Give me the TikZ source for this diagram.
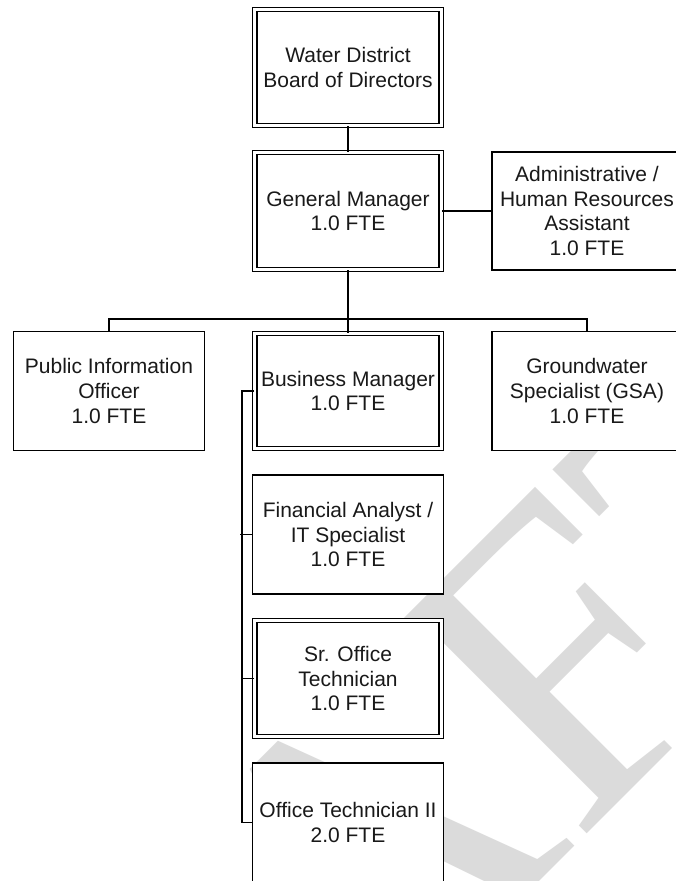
\documentclass[tikz,border=0pt]{standalone}
\usepackage{fontspec}
\setmainfont{Liberation Sans}
\newfontfamily\wmfont{Liberation Serif}
\begin{document}
\begin{tikzpicture}[x=1pt,y=-1pt,
  every node/.style={font=\fontsize{21}{24.8}\selectfont, align=center, inner sep=0pt, text=black!90},
  sbox/.style={draw, line width=1.6pt, fill=white, minimum width=191pt, minimum height=119pt},
  dbox/.style={draw, double, double distance=3.0pt, line width=1.3pt, fill=white, minimum width=186.5pt, minimum height=116pt},
  link/.style={line width=1.5pt},
  wm/.style={rotate=45, anchor=base west, inner sep=0pt, text=black!14, font=\wmfont\fontsize{430}{430}\selectfont}]
\useasboundingbox (0,0) rectangle (676,881);
\clip (0,0) rectangle (676,881);
\fill[white] (0,0) rectangle (676,881);
% watermark
\node[wm] (draft) at (-65,1486) {DRAFT};
% boxes
\node[dbox] (board) at (348,67.5) {Water District\\Board of Directors};
\node[dbox, minimum height=117pt] (gm) at (348,211) {General Manager\\1.0 FTE};
\node[sbox, minimum width=190pt, minimum height=118pt] (admin) at (587,211) {Administrative /\\Human Resources\\Assistant\\1.0 FTE};
\node[sbox] (pio) at (109,391) {Public Information\\Officer\\1.0 FTE};
\node[dbox, minimum height=115pt] (bm) at (348,391) {Business Manager\\1.0 FTE};
\node[sbox, minimum width=190pt] (gw) at (587,391) {Groundwater\\Specialist (GSA)\\1.0 FTE};
\node[sbox] (fa) at (348,534.5) {Financial Analyst /\\IT Specialist\\1.0 FTE};
\node[dbox] (sr) at (348,678.5) {Sr. Office\\Technician\\1.0 FTE};
\node[sbox] (ot) at (348,822.5) {Office Technician II\\2.0 FTE};
% connectors
\coordinate (bus) at (348,319);
\draw[link] (board.south) -- (gm.north);
\draw[link] (gm.east) -- (admin.west);
\draw[link, line width=2pt] (gm.south) -- (bm.north);
\draw[link] (pio.north) |- (bus) -| (gw.north);
\draw[link] (bm.west) -- ++(-12,0) coordinate (railtop) |- (ot.west);
\draw[link] (fa.west) -- ++(-12,0);
\draw[link] (sr.west) -- ++(-12,0);
\end{tikzpicture}
\end{document}
